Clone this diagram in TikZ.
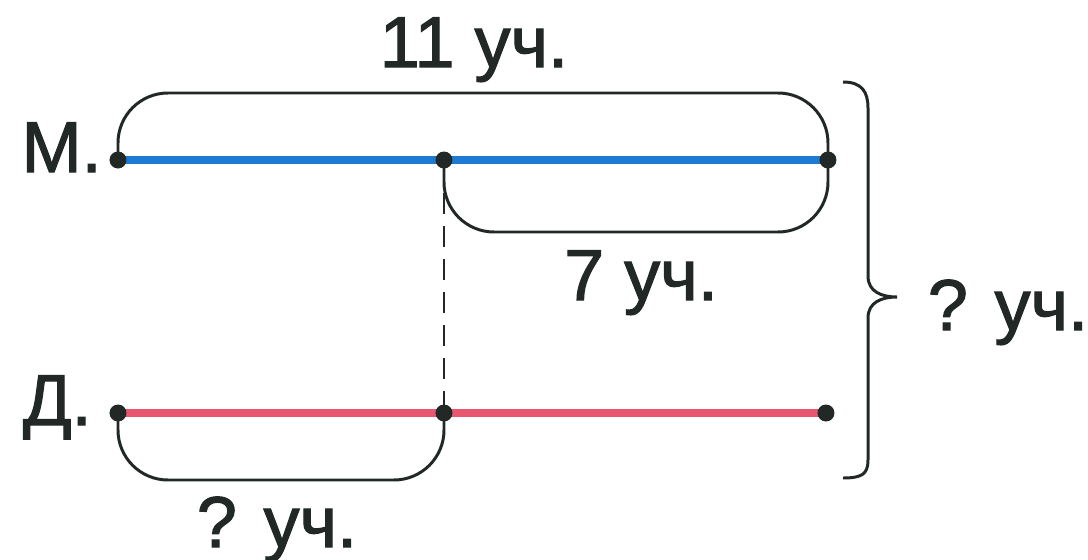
\documentclass[tikz,border=0pt]{standalone}
\usepackage{fontspec}
\setmainfont{Liberation Sans}[FakeBold=1.6]
\usepackage{tikz}

\definecolor{lineM}{RGB}{28,122,212}
\definecolor{lineD}{RGB}{232,86,112}
\definecolor{inkdark}{RGB}{34,40,38}

\begin{document}
\begin{tikzpicture}[scale=0.2]
\tikzstyle{every node}+=[inner sep=0pt, text=inkdark, font=\fontsize{41}{49}\selectfont]
\tikzstyle{segM}=[lineM, line width=4.2pt]
\tikzstyle{segD}=[lineD, line width=4.2pt]
\tikzstyle{bracket}=[inkdark, line width=1.7pt, rounded corners=1cm]
\useasboundingbox (0,0) rectangle (108.8,-55.9);
% points on the two segments
\coordinate (ma) at (11.8,-16.0);
\coordinate (mb) at (44.4,-16.0);
\coordinate (mc) at (82.8,-16.0);
\coordinate (da) at (11.8,-41.3);
\coordinate (db) at (44.4,-41.3);
\coordinate (dc) at (82.6,-41.3);
% segments
\draw [segM] (ma) -- (mc);
\draw [segD] (da) -- (dc);
\draw [inkdark, line width=1.4pt, dash pattern=on 0.42cm off 0.24cm] (mb) -- (db);
% brackets
\draw [bracket] (ma) -- ++(0,6.7) -| (mc);
\draw [bracket] (mb) -- ++(0,-7.2) -| (mc);
\draw [bracket] (da) -- ++(0,-6.7) -| (db);
\draw [inkdark, line width=1.7pt] (84.3,-8.2) .. controls (86.2,-8.2) and (86.8,-9.2) .. (86.8,-10.8) -- (86.8,-27.6)
  .. controls (86.8,-29.2) and (88.2,-29.7) .. (89.7,-29.7)
  .. controls (88.2,-29.7) and (86.8,-30.2) .. (86.8,-31.8) -- (86.8,-46.0)
  .. controls (86.8,-47.4) and (86.2,-47.8) .. (84.3,-47.8);
% dots
\foreach \p in {ma,mb,mc,da,db,dc}
  \fill [inkdark] (\p) circle (0.85);
% labels
\draw (47.4,-6.7) node (lblTop) [anchor=base] {11 уч.};
\draw (10.2,-17.2) node (lblM) [anchor=base east] {М.};
\draw (9.2,-42.5) node (lblD) [anchor=base east] {Д.};
\draw (64.1,-30.0) node (lblSeven) [anchor=base] {7 уч.};
\draw (27.7,-54.7) node (lblPart) [anchor=base] {? уч.};
\draw (100.8,-33.0) node (lblSum) [anchor=base] {? уч.};
\end{tikzpicture}
\end{document}
